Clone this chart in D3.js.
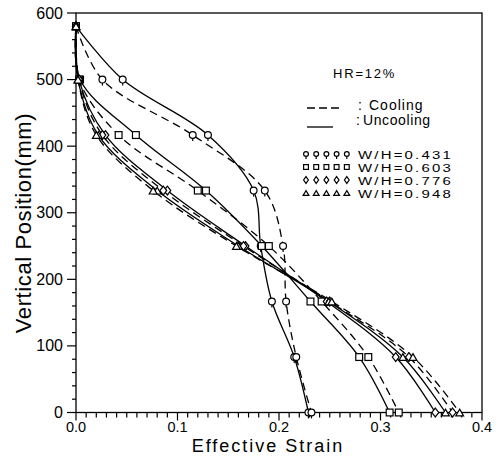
<!DOCTYPE html>
<html><head><meta charset="utf-8">
<script src="https://cdn.jsdelivr.net/npm/d3@7"></script>
<style>body{margin:0;background:#fff}svg{display:block}text{font-family:"Liberation Sans",Arial,sans-serif;fill:#000}</style>
</head><body><svg id="c" width="500" height="456"></svg>
<script>
const levels = [580, 500, 416.7, 333.3, 250, 166.7, 83.3, 0];
const ratios = ["0.431", "0.603", "0.776", "0.948"];
const markerTypes = ["circle", "square", "diamond", "triangle"];
const uncool431 = [0, 0.046, 0.130, 0.175, 0.182, 0.193, 0.215, 0.229];
const cool431   = [0, 0.026, 0.115, 0.186, 0.204, 0.207, 0.217, 0.232];
const uncool603 = [0, 0.004, 0.059, 0.128, 0.183, 0.231, 0.279, 0.309];
const cool603   = [0, 0.003, 0.042, 0.120, 0.190, 0.242, 0.288, 0.318];
const uncool776 = [0, 0.003, 0.029, 0.090, 0.167, 0.247, 0.315, 0.354];
const cool776   = [0, 0.003, 0.026, 0.086, 0.165, 0.250, 0.328, 0.371];
const uncool948 = [0, 0.002, 0.022, 0.080, 0.160, 0.249, 0.322, 0.364];
const cool948   = [0, 0.002, 0.020, 0.076, 0.158, 0.252, 0.332, 0.378];
const xTicks = [0, 0.1, 0.2, 0.3, 0.4];
const yTicks = [0, 100, 200, 300, 400, 500, 600];
const series = [
  {w:0, cool:false, v:uncool431}, {w:0, cool:true, v:cool431},
  {w:1, cool:false, v:uncool603}, {w:1, cool:true, v:cool603},
  {w:2, cool:false, v:uncool776}, {w:2, cool:true, v:cool776},
  {w:3, cool:false, v:uncool948}, {w:3, cool:true, v:cool948}
];

const svg = d3.select("#c");
const x = d3.scaleLinear().domain([0, 0.4]).range([76, 482]);
const y = d3.scaleLinear().domain([0, 600]).range([412.5, 13]);

// frame
svg.append("rect").attr("x", x(0)).attr("y", y(600)).attr("width", x(0.4)-x(0)).attr("height", y(0)-y(600))
  .attr("fill","none").attr("stroke","#000").attr("stroke-width",1.3);

// x ticks
const gx = svg.append("g");
d3.range(0, 41).forEach(i => {
  const v = i/100, major = i % 10 === 0;
  gx.append("line").attr("x1", x(v)).attr("x2", x(v)).attr("y1", y(0)).attr("y2", y(0)+(major?8:5))
    .attr("stroke","#000").attr("stroke-width",1.2);
});
xTicks.forEach(v => gx.append("text").attr("x", x(v)).attr("y", 432).attr("text-anchor","middle")
  .attr("font-size",14.5).text(d3.format(".1f")(v)));
// y ticks
d3.range(0, 31).forEach(i => {
  const v = i*20, major = v % 100 === 0;
  gx.append("line").attr("x1", x(0)-(major?9:4)).attr("x2", x(0)).attr("y1", y(v)).attr("y2", y(v))
    .attr("stroke","#000").attr("stroke-width",1.2);
});
yTicks.forEach(v => gx.append("text").attr("x", 63).attr("y", y(v)+5.5).attr("text-anchor","end")
  .attr("font-size",16).text(v));

svg.append("text").attr("x", 268).attr("y", 452).attr("text-anchor","middle").attr("font-size",18)
  .attr("letter-spacing",2).text("Effective Strain");
svg.append("text").attr("transform","translate(31,223) rotate(-90)").attr("text-anchor","middle")
  .attr("font-size",22).attr("letter-spacing",0.6).text("Vertical Position(mm)");

// curves
const line = d3.line().x(d => x(d[0])).y(d => y(d[1])).curve(d3.curveCatmullRom.alpha(0.5));
series.forEach(s => {
  const pts = s.v.map((v,i) => [v, levels[i]]);
  svg.append("path").attr("d", line(pts)).attr("fill","none").attr("stroke","#000")
    .attr("stroke-width",1.3).attr("stroke-dasharray", s.cool ? "8,5" : null);
});

function marker(g, type, cx, cy, r) {
  if (type === "circle") {
    g.append("circle").attr("cx",cx).attr("cy",cy).attr("r",r).attr("fill","#fff").attr("stroke","#000").attr("stroke-width",1.2);
    g.append("line").attr("x1",cx).attr("x2",cx).attr("y1",cy+r).attr("y2",cy+r+2.5).attr("stroke","#000").attr("stroke-width",1.2);
  } else if (type === "square") {
    g.append("rect").attr("x",cx-r).attr("y",cy-r).attr("width",2*r).attr("height",2*r).attr("fill","#fff").attr("stroke","#000").attr("stroke-width",1.2);
  } else if (type === "diamond") {
    g.append("path").attr("d",`M${cx},${cy-r-1}L${cx+r},${cy}L${cx},${cy+r+1}L${cx-r},${cy}Z`).attr("fill","#fff").attr("stroke","#000").attr("stroke-width",1.2);
  } else {
    g.append("path").attr("d",`M${cx},${cy-r}L${cx+r+0.5},${cy+r}L${cx-r-0.5},${cy+r}Z`).attr("fill","#fff").attr("stroke","#000").attr("stroke-width",1.2);
  }
}
const gm = svg.append("g");
series.forEach(s => s.v.forEach((v,i) => marker(gm, markerTypes[s.w], x(v), y(levels[i]), 3.4)));

// legend
const lg = svg.append("g");
lg.append("text").attr("x",333).attr("y",78).attr("font-size",13).attr("letter-spacing",1.8).text("HR=12%");
lg.append("line").attr("x1",307).attr("x2",340).attr("y1",108).attr("y2",108).attr("stroke","#000").attr("stroke-width",1.3).attr("stroke-dasharray","8,4");
lg.append("text").attr("x",358).attr("y",110).attr("font-size",14).text(":");
lg.append("text").attr("x",369).attr("y",110).attr("font-size",14).attr("letter-spacing",1).text("Cooling");
lg.append("line").attr("x1",307).attr("x2",333).attr("y1",127).attr("y2",127).attr("stroke","#000").attr("stroke-width",1.3);
lg.append("text").attr("x",356).attr("y",125).attr("font-size",14).text(":");
lg.append("text").attr("x",363).attr("y",125).attr("font-size",14).attr("letter-spacing",0.6).text("Uncooling");
ratios.forEach((r,k) => {
  const base = 159 + k*13;
  for (let j=0;j<5;j++) marker(lg, markerTypes[k], 306 + j*10.2, base-5, 2.4);
  lg.append("text").attr("transform",`translate(358,${base}) scale(1.3,1)`).attr("font-size",11.5)
    .attr("letter-spacing",1.7).text("W/H=" + r);
});
</script></body></html>
